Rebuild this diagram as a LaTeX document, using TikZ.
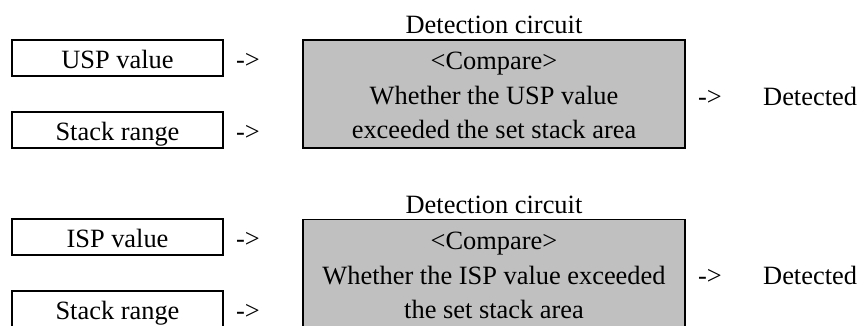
\documentclass[tikz,border=0pt]{standalone}
\usepackage{fontspec}
\setmainfont{Liberation Serif}
\definecolor{boxgray}{RGB}{192,192,192}
\begin{document}
\begin{tikzpicture}[x=1bp,y=-1bp,
  every node/.style={font=\fontsize{26.5}{34.5}\selectfont, inner sep=0pt},
  inbox/.style={draw, line width=1.6bp, minimum width=211bp, minimum height=36bp, text height=20bp, text depth=0pt},
  cmpbox/.style={draw, line width=1.6bp, fill=boxgray, minimum width=382bp, minimum height=108bp},
  txt/.style={anchor=base}]
\useasboundingbox (0,0) rectangle (860,325);
% ---- top section ----
\node[inbox] (usp) at (117.5,58) {USP value};
\node[inbox] (sr1) at (117.5,130) {Stack range};
\node[txt] (a1) at (248,68) {->};
\node[txt] (a2) at (248,140) {->};
\node[cmpbox] (det1) at (494,94) {};
\node[txt] (t1) at (494,33) {Detection circuit};
\node[txt] (c1a) at (494,69) {<Compare>};
\node[txt] (c1b) at (494,104) {Whether the USP value};
\node[txt] (c1c) at (494,138) {exceeded the set stack area};
\node[txt] (a3) at (710,105) {->};
\node[anchor=base west] (d1) at (763,105) {Detected};
% ---- bottom section ----
\node[inbox] (isp) at (117.5,237) {ISP value};
\node[inbox] (sr2) at (117.5,309) {Stack range};
\node[txt] (a4) at (248,247) {->};
\node[txt] (a5) at (248,319) {->};
\node[cmpbox] (det2) at (494,273.5) {};
\node[txt] (t2) at (494,213) {Detection circuit};
\node[txt] (c2a) at (494,249) {<Compare>};
\node[txt] (c2b) at (494,284) {Whether the ISP value exceeded};
\node[txt] (c2c) at (494,318) {the set stack area};
\node[txt] (a6) at (710,284) {->};
\node[anchor=base west] (d2) at (763,284) {Detected};
\end{tikzpicture}
\end{document}
